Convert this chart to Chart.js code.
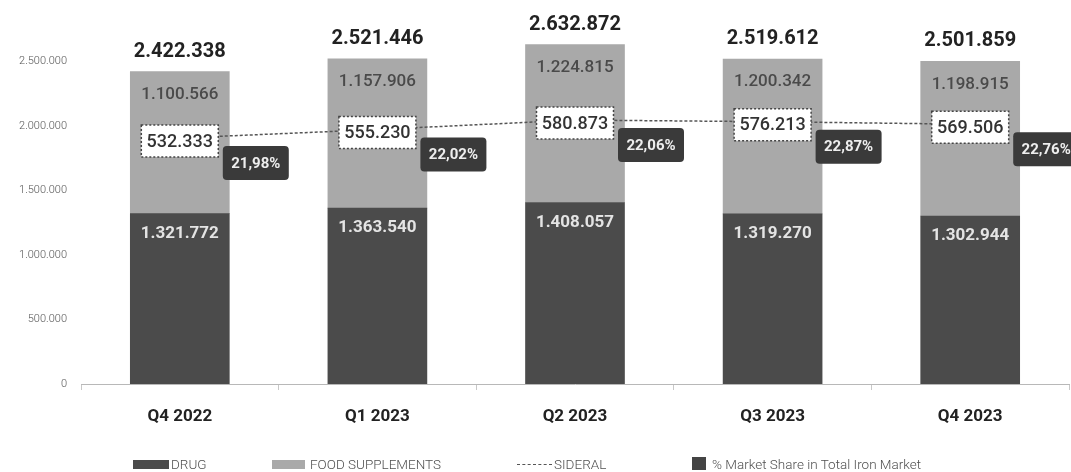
<!DOCTYPE html>
<html><head><meta charset="utf-8">
<script src="https://cdn.jsdelivr.net/npm/chart.js@4"></script>
<style>
body{margin:0;background:#fff;}
#wrap{position:relative;width:1071px;height:472px;overflow:hidden;}
canvas{position:absolute;left:0;top:0;}
.lg{position:absolute;font-family:Roboto,sans-serif;font-weight:300;font-size:13.5px;color:#505050;line-height:16px;top:456px;white-space:nowrap;}
.sw{position:absolute;}
</style></head><body>
<div id="wrap">
<canvas id="c" width="1071" height="472"></canvas>
<div class="sw" style="left:133px;top:460px;width:36px;height:9px;background:#4b4b4b"></div>
<div class="lg" style="left:171px">DRUG</div>
<div class="sw" style="left:272px;top:460px;width:33px;height:9px;background:#a9a9a9"></div>
<div class="lg" style="left:310px">FOOD SUPPLEMENTS</div>
<div class="sw" style="left:517px;top:464px;width:35px;height:0;border-top:1.5px dashed #555"></div>
<div class="lg" style="left:554px">SIDERAL</div>
<div class="sw" style="left:692px;top:457px;width:14px;height:13px;background:#444"></div>
<div class="lg" style="left:712px">% Market Share in Total Iron Market</div>
</div>
<script>
const categories = ['Q4 2022', 'Q1 2023', 'Q2 2023', 'Q3 2023', 'Q4 2023'];
const drug = [1321772, 1363540, 1408057, 1319270, 1302944];
const foodSupplements = [1100566, 1157906, 1224815, 1200342, 1198915];
const totals = [2422338, 2521446, 2632872, 2519612, 2501859];
const sideral = [532333, 555230, 580873, 576213, 569506];
const marketShare = [21.98, 22.02, 22.06, 22.87, 22.76];
const yTicks = [0, 500000, 1000000, 1500000, 2000000, 2500000];

function fmt(n) {
  return String(n).replace(/\B(?=(\d{3})+(?!\d))/g, '.');
}
function fmtPct(v) {
  return v.toFixed(2).replace('.', ',') + '%';
}
function rr(ctx, x, y, w, h, r) {
  ctx.beginPath();
  ctx.moveTo(x + r, y);
  ctx.lineTo(x + w - r, y);
  ctx.quadraticCurveTo(x + w, y, x + w, y + r);
  ctx.lineTo(x + w, y + h - r);
  ctx.quadraticCurveTo(x + w, y + h, x + w - r, y + h);
  ctx.lineTo(x + r, y + h);
  ctx.quadraticCurveTo(x, y + h, x, y + h - r);
  ctx.lineTo(x, y + r);
  ctx.quadraticCurveTo(x, y, x + r, y);
  ctx.closePath();
}

const labelPlugin = {
  id: 'labels',
  afterDatasetsDraw(chart) {
    const ctx = chart.ctx;
    const m0 = chart.getDatasetMeta(0), m1 = chart.getDatasetMeta(1), m2 = chart.getDatasetMeta(2);
    ctx.save();
    ctx.textAlign = 'center';
    ctx.textBaseline = 'middle';
    categories.forEach((c, i) => {
      const b0 = m0.data[i], b1 = m1.data[i], p = m2.data[i];
      ctx.font = 'bold 17px Roboto';
      ctx.fillStyle = '#e4e4e4';
      ctx.fillText(fmt(drug[i]), b0.x, b0.y + 20);
      ctx.font = '500 17px Roboto';
      ctx.fillStyle = '#4a4a4a';
      ctx.fillText(fmt(foodSupplements[i]), b1.x, b1.y + 23);
      ctx.font = 'bold 20px Roboto';
      ctx.fillStyle = '#222';
      ctx.fillText(fmt(totals[i]), b1.x, b1.y - 20);
      // sideral box
      const bw = 77, bh = 32, cy = p.y + 3;
      const bx = p.x - bw / 2, by = cy - bh / 2;
      ctx.fillStyle = '#fff';
      ctx.fillRect(bx, by, bw, bh);
      ctx.setLineDash([2, 2]);
      ctx.strokeStyle = '#444';
      ctx.lineWidth = 1.5;
      ctx.strokeRect(bx, by, bw, bh);
      ctx.setLineDash([]);
      ctx.font = '500 18px Roboto';
      ctx.fillStyle = '#333';
      ctx.fillText(fmt(sideral[i]), p.x, cy + 1);
      // share box
      const sx = p.x + 76, sy = p.y + 25, sw = 66, sh = 34;
      ctx.fillStyle = '#3a3a3a';
      rr(ctx, sx - sw / 2, sy - sh / 2, sw, sh, 4);
      ctx.fill();
      ctx.font = 'bold 15px Roboto';
      ctx.fillStyle = '#eeeeee';
      ctx.fillText(fmtPct(marketShare[i]), sx, sy + 1);
    });
    ctx.restore();
  }
};

new Chart(document.getElementById('c'), {
  data: {
    labels: categories,
    datasets: [
      { type: 'bar', label: 'DRUG', data: drug, backgroundColor: '#4b4b4b', barThickness: 99, order: 1, yAxisID: 'y' },
      { type: 'bar', label: 'FOOD SUPPLEMENTS', data: foodSupplements, backgroundColor: '#a9a9a9', barThickness: 99, order: 1, yAxisID: 'y' },
      { type: 'line', label: 'SIDERAL', data: sideral, borderColor: '#555', borderWidth: 1.5, borderDash: [3, 2], pointRadius: 0, fill: false, tension: 0, order: 0, yAxisID: 'y2' }
    ]
  },
  options: {
    responsive: false,
    animation: false,
    layout: { padding: { top: 23, right: 2, left: 0, bottom: 0 } },
    plugins: { legend: { display: false }, tooltip: { enabled: false } },
    scales: {
      x: {
        stacked: true,
        grid: { display: true, drawOnChartArea: false, drawTicks: true, tickLength: 6, color: '#c8c8c8', offset: true },
        border: { display: true, color: '#b8b8b8', width: 1 },
        ticks: { padding: 17, color: '#222', font: { family: 'Roboto', size: 17, weight: 'bold' } },
        afterFit(s) { s.height = 88; }
      },
      y: {
        stacked: true,
        min: 0,
        max: 2800000,
        grid: { display: false, drawTicks: false },
        border: { display: false },
        afterBuildTicks(s) { s.ticks = yTicks.map(v => ({ value: v })); },
        ticks: { padding: 14, color: '#555', font: { family: 'Roboto', size: 11, weight: '300' }, callback: v => fmt(v) },
        afterFit(s) { s.width = 81; }
      },
      y2: {
        display: false,
        stacked: false,
        min: -131000,
        max: 842500
      }
    }
  },
  plugins: [labelPlugin]
});
</script>
</body></html>
